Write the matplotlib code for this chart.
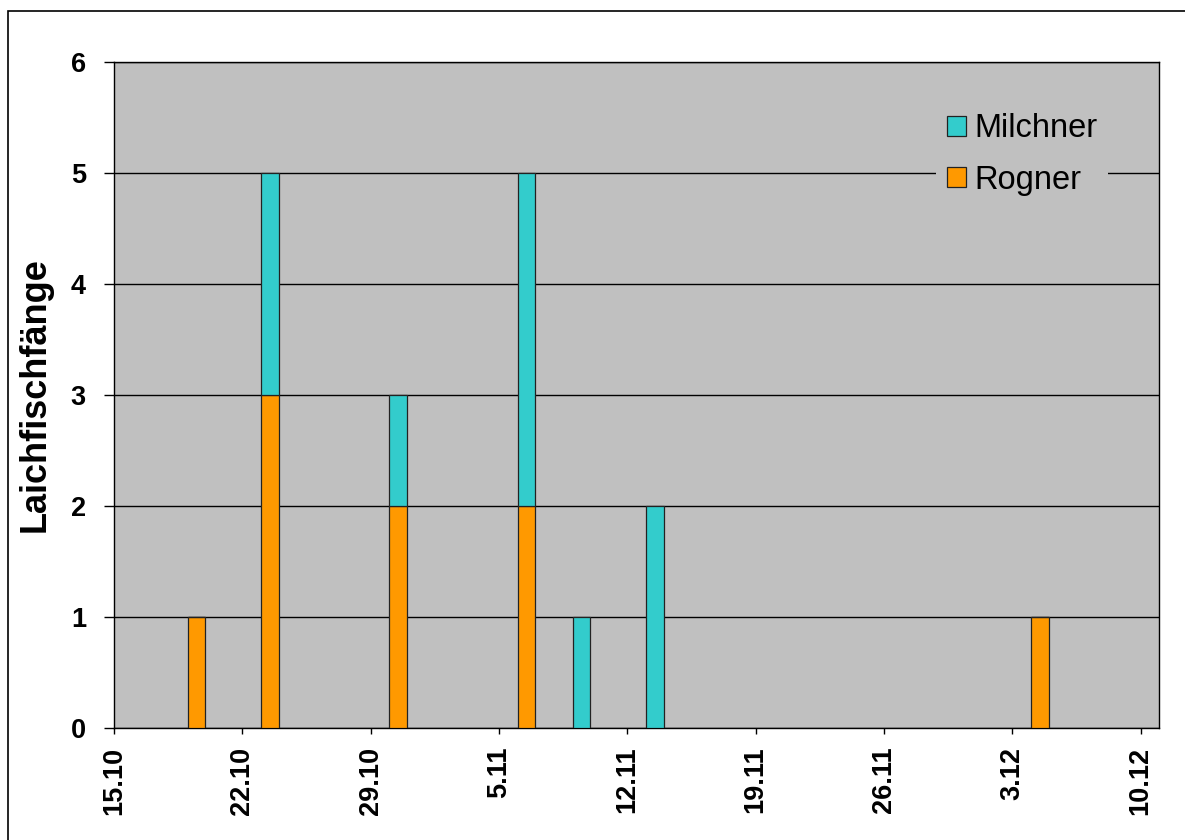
import datetime as dt
import matplotlib
matplotlib.use("Agg")
import matplotlib.pyplot as plt
import matplotlib.dates as mdates
from matplotlib.patches import Rectangle, Patch
from matplotlib.ticker import FuncFormatter, MultipleLocator

# Fangdaten (Tag der Laichfischfänge)
fang_tage = ["19.10", "23.10", "30.10", "6.11", "9.11", "13.11", "4.12"]
rogner = [1, 3, 2, 2, 0, 0, 1]
milchner = [0, 2, 1, 3, 1, 2, 0]

JAHR = 2006
start = dt.date(JAHR, 10, 15)
ende = dt.date(JAHR, 12, 11)

plt.rcParams["font.family"] = ["Liberation Sans", "DejaVu Sans"]

def to_date(s):
    tag, monat = s.split(".")
    return dt.date(JAHR, int(monat), int(tag))

x = [mdates.date2num(to_date(s)) + 0.5 for s in fang_tage]

fig = plt.figure(figsize=(11.85, 8.4), dpi=100)
ax = fig.add_axes([114 / 1185, 1 - 728 / 840, 1045 / 1185, 666 / 840])
ax.set_facecolor("#C0C0C0")

col_rogner = "#FF9900"
col_milchner = "#33CCCC"

ax.bar(x, rogner, width=0.95, color=col_rogner, edgecolor="#222222", linewidth=0.9, zorder=3)
ax.bar(x, milchner, width=0.95, bottom=rogner, color=col_milchner, edgecolor="#222222",
       linewidth=0.9, zorder=3)

ax.set_ylim(0, 6)
ax.yaxis.set_major_locator(MultipleLocator(1))
ax.grid(axis="y", color="black", linewidth=1.0, zorder=1)
ax.set_axisbelow(True)

ax.set_xlim(mdates.date2num(start), mdates.date2num(ende))
ticks = [mdates.date2num(start) + 7 * i for i in range(9)]
ax.set_xticks(ticks)

def fmt(v, pos):
    d = mdates.num2date(v)
    return f"{d.day}.{d.month}"

ax.xaxis.set_major_formatter(FuncFormatter(fmt))

for s in ax.spines.values():
    s.set_color("black")
    s.set_linewidth(1.0)

ax.tick_params(axis="y", direction="out", length=7.2, width=1, pad=13, labelsize=19.5)
ax.tick_params(axis="x", direction="out", length=4.5, width=1, pad=9, labelsize=19.5,
               labelrotation=90)
for lab in ax.get_xticklabels() + ax.get_yticklabels():
    lab.set_fontweight("bold")

ax.set_ylabel("Laichfischfänge", fontsize=26, fontweight="bold")
ax.yaxis.set_label_coords(-0.0583, 0.5)

handles = [Patch(facecolor=col_milchner, edgecolor="#222222", linewidth=0.9),
           Patch(facecolor=col_rogner, edgecolor="#222222", linewidth=0.9)]
leg = ax.legend(handles, ["Milchner", "Rogner"], loc="upper right",
                bbox_to_anchor=(0.9512, 0.939), borderaxespad=0, fontsize=23.5,
                handlelength=0.58, handleheight=0.58, handletextpad=0.25,
                labelspacing=0.62, borderpad=0.33, frameon=True, fancybox=False)
leg.get_frame().set_facecolor("#C0C0C0")
leg.get_frame().set_edgecolor("none")
leg.get_frame().set_alpha(1)
leg.set_zorder(5)

# Rahmen um das Diagramm
fig.add_artist(Rectangle((8 / 1185, -0.1), 1.2, 1 - 11 / 840 + 0.1, transform=fig.transFigure,
                         fill=False, edgecolor="black", linewidth=1.2, clip_on=False))

fig.savefig("out.png", dpi=100)
